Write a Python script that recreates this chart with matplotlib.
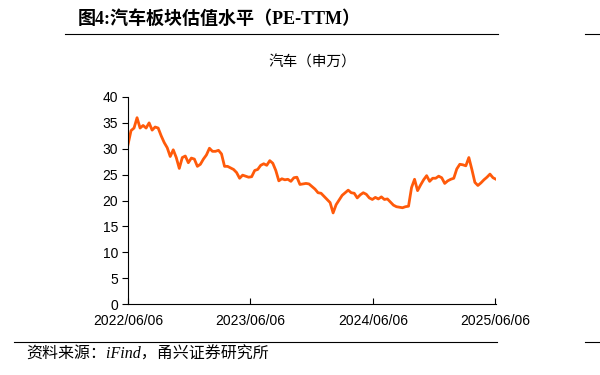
import pandas as pd
import matplotlib
matplotlib.use("Agg")
import matplotlib.pyplot as plt
from matplotlib.lines import Line2D

plt.rcParams['font.family'] = ['Liberation Sans', 'Noto Sans CJK SC']

# PE-TTM of the auto sector, sampled every 9 days from 2022-06-06
start = "2022-06-06"
step = "9D"
pe_ttm = [
    30.8, 33.5, 34.0, 36.0, 34.0, 34.5, 34.0, 35.0, 33.6, 34.2,
    34.0, 32.5, 31.2, 30.2, 28.5, 29.8, 28.3, 26.2, 28.3, 28.6,
    27.3, 28.2, 28.0, 26.6, 27.0, 28.0, 28.8, 30.1, 29.5, 29.5,
    29.7, 29.0, 26.6, 26.6, 26.3, 26.0, 25.4, 24.3, 24.9, 24.7,
    24.5, 24.6, 25.8, 26.0, 26.8, 27.1, 26.8, 27.7, 27.2, 25.8,
    23.8, 24.2, 24.0, 24.1, 23.7, 24.4, 24.5, 23.1, 23.2, 23.3,
    23.2, 22.7, 22.2, 21.5, 21.4, 20.8, 20.2, 19.6, 17.6, 19.2,
    20.1, 21.0, 21.5, 22.0, 21.5, 21.4, 20.5, 21.1, 21.5, 21.2,
    20.5, 20.2, 20.6, 20.3, 20.7, 20.2, 20.3, 19.7, 19.1, 18.8,
    18.7, 18.6, 18.8, 18.9, 22.5, 24.1, 21.9, 23.0, 24.0, 24.8,
    23.7, 24.3, 24.3, 24.7, 24.4, 23.3, 23.8, 24.1, 24.3, 26.1,
    27.0, 26.9, 26.7, 28.3, 26.0, 23.5, 22.9, 23.4, 24.0, 24.5,
    25.1, 24.4, 24.1,
]
dates = pd.date_range(start, periods=len(pe_ttm), freq=step)

tick_dates = pd.to_datetime(["2022-06-06", "2023-06-06", "2024-06-06", "2025-06-06"])
tick_labels = ["2022/06/06", "2023/06/06", "2024/06/06", "2025/06/06"]
y_ticks = [0, 5, 10, 15, 20, 25, 30, 35, 40]

fig = plt.figure(figsize=(6, 3.75), dpi=100)
ax = fig.add_axes([128 / 600, 1 - 304 / 375, 368 / 600, 207 / 375])

ax.plot(dates, pe_ttm, color='#FF5A0A', lw=2, solid_joinstyle='round')

ax.set_xlim(dates[0], dates[-1])
ax.set_ylim(0, 40)
ax.set_yticks(y_ticks)
ax.set_xticks(tick_dates)
ax.set_xticklabels(tick_labels)
for s in ['top', 'right']:
    ax.spines[s].set_visible(False)
for s in ['left', 'bottom']:
    ax.spines[s].set_linewidth(0.8)
ax.tick_params(axis='x', direction='in', length=4, width=0.8, pad=7, labelsize=10)
ax.tick_params(axis='y', direction='out', length=4, width=0.8, pad=3, labelsize=10)

ax.set_title("汽车（申万）", fontsize=10.5, family=['Noto Sans CJK SC'], pad=22)

# header and footer
fig.text(78 / 600, 1 - 19 / 375, "图4:汽车板块估值水平（PE-TTM）", ha='left', va='center',
         fontsize=13, fontweight='bold', family=['Liberation Serif', 'Noto Sans CJK SC'])
fig.add_artist(Line2D([65 / 600, 498 / 600], [1 - 34 / 375] * 2, transform=fig.transFigure,
                      color='black', lw=0.8))
fig.add_artist(Line2D([585 / 600, 1], [1 - 34 / 375] * 2, transform=fig.transFigure,
                      color='black', lw=0.8))
fig.add_artist(Line2D([14 / 600, 497 / 600], [1 - 342 / 375] * 2, transform=fig.transFigure,
                      color='black', lw=0.8))
fig.add_artist(Line2D([585 / 600, 1], [1 - 342 / 375] * 2, transform=fig.transFigure,
                      color='black', lw=0.8))
fig.text(26 / 600, 1 - 355 / 375, "资料来源：iFind，甬兴证券研究所", ha='left', va='center',
         fontsize=11.5, style='italic', family=['Liberation Serif', 'Noto Sans CJK SC'])

fig.savefig("out.png", dpi=100)
